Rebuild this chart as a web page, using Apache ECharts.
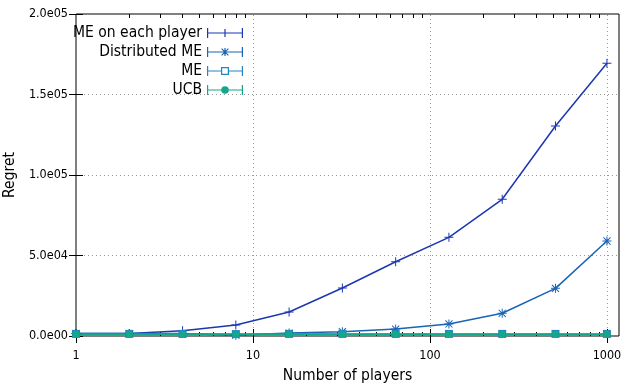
<!DOCTYPE html>
<html>
<head>
<meta charset="utf-8">
<script src="https://cdn.jsdelivr.net/npm/echarts@6/dist/echarts.min.js"></script>
<style>
  html, body { margin: 0; padding: 0; background: #fff; }
  #chart { width: 640px; height: 387px; }
</style>
</head>
<body>
<div id="chart"></div>
<script>
var players = [1, 2, 4, 8, 16, 32, 64, 128, 256, 512, 1000];
var meEachPlayer = [1500, 1500, 3300, 6800, 14900, 29800, 46100, 61300, 84900, 130400, 169400];
var distributedMe = [1500, 1500, 1500, 500, 1800, 2700, 4300, 7500, 14100, 29600, 59000];
var meRegret = [1300, 1300, 1300, 1200, 1300, 1300, 1300, 1300, 1300, 1300, 1300];
var ucbRegret = [1100, 1100, 1100, 1100, 1100, 1100, 1100, 1100, 1100, 1100, 1100];

var xTicks = [1, 10, 100, 1000];
var xTickLabels = ['1', '10', '100', '1000'];
var yTicks = [0, 50000, 100000, 150000, 200000];
var yTickLabels = ['0.0e00', '5.0e04', '1.0e05', '1.5e05', '2.0e05'];
var xMinorTicks = [2, 3, 4, 5, 6, 7, 8, 9, 20, 30, 40, 50, 60, 70, 80, 90, 200, 300, 400, 500, 600, 700, 800, 900];

var FONT = "'DejaVu Sans Condensed', 'DejaVu Sans', sans-serif";
var X_MAX = 1170;
var LOG_MAX = Math.log10(X_MAX);
var GRID = { left: 76, right: 21, top: 14, bottom: 51 };
var PLOT_W = 640 - GRID.left - GRID.right;
var PLOT_H = 387 - GRID.top - GRID.bottom;
var DOTTED = { color: '#999', type: [1, 3], width: 1 };
var BLACK = { color: '#000', width: 1 };

// marker shapes (gnuplot-like)
var plusPath = 'path://M4 0h1v9H4z M0 4h9v1H0z';
var starPath = 'path://M4 0h1v9H4z M0 4h9v1H0z M0.6 1.3L1.3 0.6L8.4 7.7L7.7 8.4z M8.4 1.3L1.3 8.4L0.6 7.7L7.7 0.6z';

// legend samples: line with end caps + marker
var capsLine = 'M0 0h1.2v10H0z M34.8 0H36v10h-1.2z ';
var legendIcons = {
  plus: 'path://' + capsLine + 'M0 4.4h36v1.2H0z M17.4 1h1.2v8h-1.2z',
  star: 'path://' + capsLine + 'M0 4.4h36v1.2H0z M17.4 1h1.2v8h-1.2z M14.2 2L15 1.2L21.8 8L21 8.8z M21.8 2L15 8.8L14.2 8L21 1.2z',
  square: 'path://' + capsLine + 'M0 4.4h14v1.2H0z M22 4.4h14v1.2H22z M14 1h8v8h-8z M15.2 2.2v5.6h5.6v-5.6z',
  circle: 'path://' + capsLine + 'M0 4.4h36v1.2H0z M18 1.2a3.8 3.8 0 1 1 0 7.6a3.8 3.8 0 1 1 0-7.6z'
};

var colors = ['#1c37b2', '#1964b4', '#2387be', '#14a88a'];

function pairs(ys) {
  return players.map(function (x, i) { return [x, ys[i]]; });
}

var chart = echarts.init(document.getElementById('chart'), null, { renderer: 'canvas' });

function makeSeries(name, ys, color, symbol, size) {
  return {
    name: name,
    type: 'line',
    data: pairs(ys),
    xAxisIndex: 0,
    yAxisIndex: 0,
    color: color,
    symbol: symbol,
    symbolSize: size,
    showSymbol: true,
    lineStyle: { width: 1.5, color: color },
    itemStyle: { color: color },
    emphasis: { disabled: true }
  };
}

// decoration x axes in log10 space; the data itself sits on the log axis
function xDeco(pos, values, len, lineStyle, opts) {
  var ax = {
    type: 'value', min: 0, max: LOG_MAX, position: pos,
    axisLine: { show: false },
    axisTick: { show: true, inside: true, length: len, lineStyle: lineStyle, customValues: values.map(Math.log10) },
    axisLabel: { show: false },
    splitLine: { show: false },
    minorTick: { show: false },
    minorSplitLine: { show: false }
  };
  return Object.assign(ax, opts || {});
}

function yDeco(pos, values, len, lineStyle, opts) {
  var ax = {
    type: 'value', min: 0, max: 200000, position: pos,
    axisLine: { show: false },
    axisTick: { show: true, inside: true, length: len, lineStyle: lineStyle, customValues: values },
    axisLabel: { show: false },
    splitLine: { show: false },
    minorTick: { show: false },
    minorSplitLine: { show: false }
  };
  return Object.assign(ax, opts || {});
}

var option = {
  animation: false,
  backgroundColor: '#fff',
  textStyle: { fontFamily: FONT },
  grid: { left: GRID.left, right: GRID.right, top: GRID.top, bottom: GRID.bottom, containLabel: false,
          outerBoundsMode: 'none',
          show: true, borderColor: '#000', borderWidth: 1, backgroundColor: 'transparent' },
  legend: {
    orient: 'vertical',
    right: 397,
    top: 25,
    align: 'right',
    itemWidth: 36,
    itemHeight: 10,
    itemGap: 3,
    padding: 0,
    selectedMode: false,
    textStyle: { fontSize: 15.5, color: '#000', fontFamily: FONT },
    data: [
      { name: 'ME on each player', icon: legendIcons.plus },
      { name: 'Distributed ME', icon: legendIcons.star },
      { name: 'ME', icon: legendIcons.square },
      { name: 'UCB', icon: legendIcons.circle }
    ]
  },
  xAxis: [
    {
      type: 'log', logBase: 10, min: 1, max: X_MAX, show: false,
      axisLine: { show: false }, axisTick: { show: false }, axisLabel: { show: false },
      splitLine: { show: false }, minorTick: { show: false }, minorSplitLine: { show: false }
    },
    // grid lines
    xDeco('bottom', xTicks.slice(1), PLOT_H, DOTTED),
    // major ticks + labels
    xDeco('bottom', xTicks, 7, BLACK, {
      name: 'Number of players',
      nameLocation: 'middle',
      nameGap: 32,
      nameTextStyle: { fontSize: 15.5, color: '#000', fontFamily: FONT },
      axisLabel: {
        show: true, margin: 13, fontSize: 12.5, color: '#000', fontFamily: FONT,
        customValues: xTicks.map(Math.log10),
        formatter: function (v) { return xTickLabels[Math.round(v)]; }
      }
    }),
    xDeco('top', xTicks, 7, BLACK),
    xDeco('bottom', xMinorTicks, 4, BLACK),
    xDeco('top', xMinorTicks, 4, BLACK)
  ],
  yAxis: [
    {
      type: 'value', min: 0, max: 200000, position: 'left', show: false,
      axisLine: { show: false }, axisTick: { show: false }, axisLabel: { show: false },
      splitLine: { show: false }
    },
    yDeco('left', yTicks.slice(1, 4), PLOT_W, DOTTED),
    yDeco('left', yTicks, 7, BLACK, {
      name: 'Regret',
      nameLocation: 'middle',
      nameRotate: 90,
      nameGap: 57,
      nameTextStyle: { fontSize: 15.5, color: '#000', fontFamily: FONT },
      axisLabel: {
        show: true, margin: 8, fontSize: 12.5, color: '#000', fontFamily: FONT,
        customValues: yTicks,
        formatter: function (v) { return yTickLabels[yTicks.indexOf(v)]; }
      }
    }),
    yDeco('right', yTicks, 7, BLACK)
  ],
  series: [
    makeSeries('ME on each player', meEachPlayer, colors[0], plusPath, 9),
    makeSeries('Distributed ME', distributedMe, colors[1], starPath, 9),
    makeSeries('ME', meRegret, colors[2], 'rect', 8),
    makeSeries('UCB', ucbRegret, colors[3], 'circle', 7)
  ]
};

chart.setOption(option);
</script>
</body>
</html>
